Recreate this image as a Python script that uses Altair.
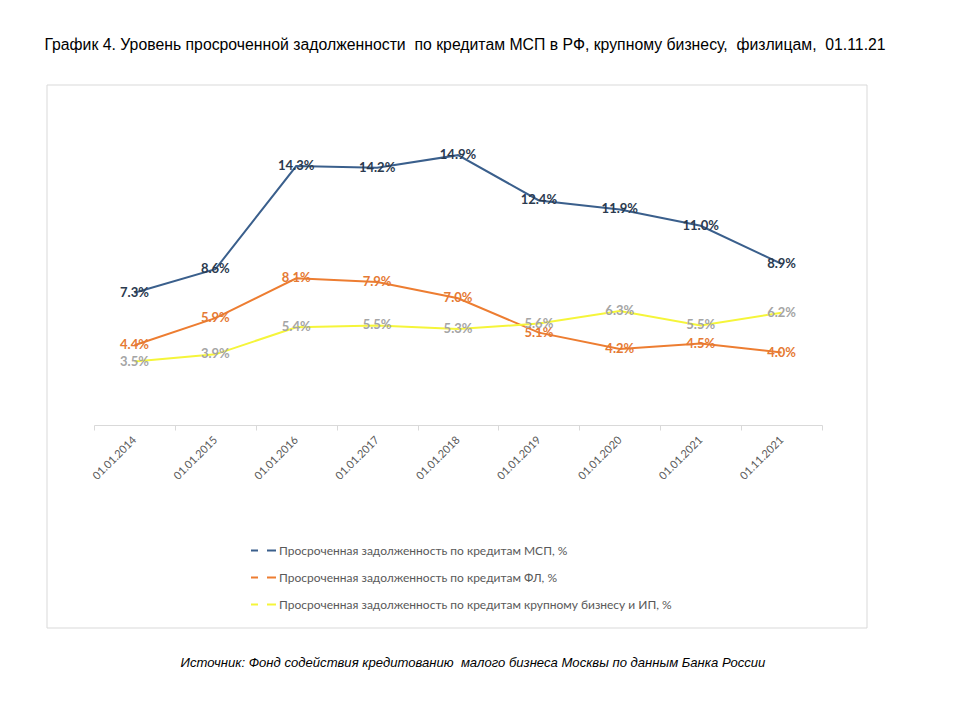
import altair as alt
import pandas as pd

dates = ["01.01.2014", "01.01.2015", "01.01.2016", "01.01.2017", "01.01.2018",
         "01.01.2019", "01.01.2020", "01.01.2021", "01.11.2021"]
names = [
    "Просроченная задолженность по кредитам МСП, %",
    "Просроченная задолженность по кредитам ФЛ, %",
    "Просроченная задолженность по кредитам крупному бизнесу и ИП, %",
]
msp = [7.3, 8.6, 14.3, 14.2, 14.9, 12.4, 11.9, 11.0, 8.9]
fl = [4.4, 5.9, 8.1, 7.9, 7.0, 5.1, 4.2, 4.5, 4.0]
big = [3.5, 3.9, 5.4, 5.5, 5.3, 5.6, 6.3, 5.5, 6.2]

title_text = "График 4. Уровень просроченной задолженности \u00a0по кредитам МСП в РФ, крупному бизнесу, \u00a0физлицам, \u00a001.11.21"
source_text = "Источник: Фонд содействия кредитованию \u00a0малого бизнеса Москвы по данным Банка России"

line_colors = ["#3A5F8C", "#ED7D31", "#F5F53A"]
label_colors = ["#2B3A4E", "#E57A34", "#A5A5A5"]

rows = []
for name, vals in zip(names, [msp, fl, big]):
    for d, v in zip(dates, vals):
        rows.append({"date": d, "series": name, "value": v})
df = pd.DataFrame(rows)

W, H = 728, 326

x_enc = alt.X("date:N", sort=dates, bandPosition=0.5,
              scale=alt.Scale(type="band", paddingInner=0, paddingOuter=0),
              axis=alt.Axis(title=None, labelAngle=315, labelAlign="right",
                            labelBaseline="middle", labelFont="Lato",
                            labelFontSize=11, labelColor="#595959",
                            labelPadding=8, domainColor="#D9D9D9",
                            tickColor="#D9D9D9", tickSize=5, tickBand="extent",
                            grid=False))
y_enc = alt.Y("value:Q", scale=alt.Scale(domain=[0, 18]), axis=None)

lines = alt.Chart(df).mark_line(strokeWidth=2).encode(
    x=x_enc, y=y_enc,
    color=alt.Color("series:N", sort=names,
                    scale=alt.Scale(domain=names, range=line_colors),
                    legend=alt.Legend(title=None, orient="none", legendX=156,
                                      legendY=438, direction="vertical",
                                      symbolType="stroke", symbolSize=625,
                                      symbolStrokeWidth=2, symbolDash=[7, 9, 9],
                                      labelFont="Lato", labelFontSize=12,
                                      labelColor="#595959", labelLimit=600,
                                      labelOffset=2, rowPadding=7, padding=0)),
)

labels = alt.Chart(df).transform_calculate(
    lab="format(datum.value, '.1f') + '%'"
).mark_text(font="Lato", fontWeight="bold", fontSize=13, baseline="middle",
            align="center").encode(
    x=alt.X("date:N", sort=dates, bandPosition=0.5),
    y=alt.Y("value:Q"),
    text="lab:N",
    color=alt.Color("series:N", scale=alt.Scale(domain=names, range=label_colors),
                    legend=None),
)

one = alt.Data(values=[{"a": 1}])
frame = alt.Chart(one).mark_rect(fill="white", fillOpacity=0, stroke="#D9D9D9",
                                 strokeWidth=1).encode(
    x=alt.value(-47), x2=alt.value(773), y=alt.value(-14), y2=alt.value(529))

title = alt.Chart(one).mark_text(text=title_text, font="Liberation Sans",
                                 fontSize=15.8, color="#000000",
                                 align="center", baseline="middle").encode(
    x=alt.value(371), y=alt.value(-54))

source = alt.Chart(one).mark_text(text=source_text, font="Liberation Sans",
                                  fontSize=13.1, fontStyle="italic",
                                  color="#000000", align="center",
                                  baseline="middle").encode(
    x=alt.value(379), y=alt.value(564))

chart = alt.layer(frame, lines, labels, title, source).resolve_scale(
    color="independent"
).properties(
    width=W, height=H,
    padding={"left": 86, "top": 91, "right": 130, "bottom": 287},
    autosize=alt.AutoSizeParams(type="none"),
).configure_view(stroke=None)

chart.save("out.html", embed_options={"renderer": "svg", "actions": False})
